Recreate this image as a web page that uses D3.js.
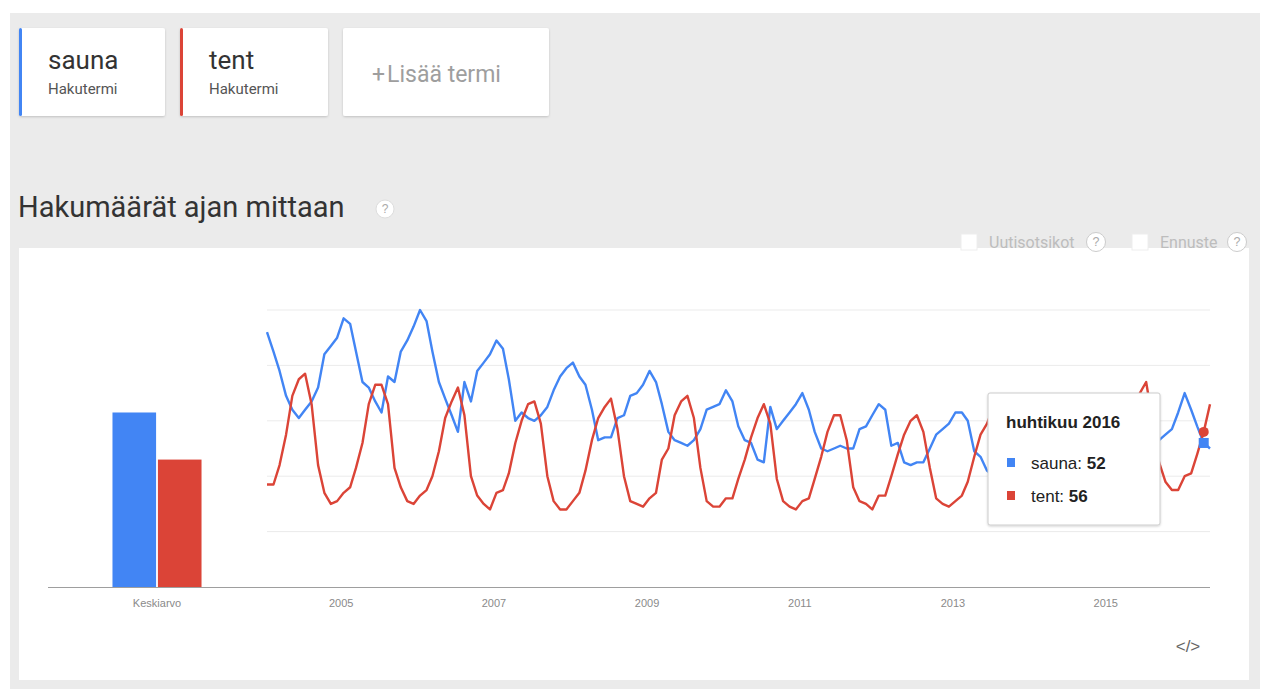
<!DOCTYPE html>
<html>
<head>
<meta charset="utf-8">
<script src="https://cdn.jsdelivr.net/npm/d3@7"></script>
<style>
  body { margin: 0; background: #fff; }
  svg { display: block; }
  .roboto { font-family: Roboto, "Noto Sans", sans-serif; }
  .arial { font-family: "Liberation Sans", Arial, sans-serif; }
</style>
</head>
<body>
<svg width="1263" height="689"></svg>
<script>
// search terms
let terms = ["sauna", "tent"]
let colors = ["#4285f4", "#db4437"]

// monthly interest, Jan 2004 .. May 2016
let startMonth = new Date(2004, 0, 1)
let sauna = [92, 85, 78, 69, 64, 61, 64, 67, 72, 84, 87, 90,
  97, 95, 85, 74, 72, 67, 63, 76, 74, 85, 89, 94,
  100, 96, 85, 74, 68, 62, 56, 74, 67, 78, 81, 84,
  89, 86, 75, 60, 63, 61, 60, 62, 65, 71, 76, 79,
  81, 76, 73, 64, 53, 54, 54, 61, 62, 69, 70, 73,
  78, 74, 66, 56, 53, 52, 51, 53, 57, 64, 65, 66,
  71, 67, 58, 53, 52, 46, 45, 65, 57, 60, 63, 66,
  70, 64, 56, 50, 49, 50, 51, 50, 50, 57, 58, 62,
  66, 64, 51, 52, 45, 44, 45, 45, 50, 55, 57, 59,
  63, 63, 60, 49, 47, 42, 40, 41, 44, 50, 55, 58,
  60, 57, 52, 48, 46, 44, 43, 44, 48, 53, 56, 58,
  60, 56, 52, 49, 47, 46, 47, 50, 53, 55, 57, 63,
  70, 64, 58, 52, 50]
let tent = [37, 37, 44, 55, 69, 75, 77, 66, 44, 34, 30, 31,
  34, 36, 43, 52, 66, 73, 73, 66, 43, 36, 31, 30,
  33, 35, 40, 49, 61, 67, 72, 62, 40, 33, 30, 28,
  34, 35, 41, 52, 60, 66, 67, 59, 40, 31, 28, 28,
  31, 34, 42, 53, 61, 65, 68, 57, 40, 31, 30, 29,
  32, 34, 46, 50, 62, 67, 69, 61, 43, 31, 29, 29,
  32, 32, 39, 46, 54, 61, 66, 59, 39, 31, 29, 28,
  31, 32, 39, 47, 56, 62, 62, 53, 36, 31, 30, 28,
  33, 33, 40, 48, 55, 60, 62, 56, 43, 32, 30, 29,
  31, 33, 38, 47, 55, 59, 65, 60, 45, 34, 30, 29,
  31, 33, 38, 46, 55, 63, 67, 62, 46, 35, 31, 30,
  32, 34, 40, 48, 58, 70, 74, 60, 45, 38, 35, 35,
  40, 41, 48, 56, 66]

// averages (bar chart)
let averages = [63, 46]
let avgLabel = "Keskiarvo"

let yearTicks = [2005, 2007, 2009, 2011, 2013, 2015]
let gridValues = [20, 40, 60, 80, 100]

// tooltip
let hoverIndex = 147
let hoverLabel = "huhtikuu 2016"

let svg = d3.select("svg")

// drop shadow
let defs = svg.append("defs")
defs.append("filter").attr("id", "shadow")
    .attr("x", "-10%").attr("y", "-10%").attr("width", "120%").attr("height", "130%")
    .append("feDropShadow")
    .attr("dx", 0).attr("dy", 1).attr("stdDeviation", 1.2)
    .attr("flood-color", "#000").attr("flood-opacity", 0.18)

// page backdrop
svg.append("rect")
    .attr("x", 10).attr("y", 13).attr("width", 1250).attr("height", 676)
    .style("fill", "#ebebeb")

// term cards
let cards = [
  { label: "sauna", x: 19, w: 146, color: colors[0] },
  { label: "tent", x: 180, w: 148, color: colors[1] }
]
cards.forEach(c => {
  let g = svg.append("g")
  g.append("rect")
      .attr("x", c.x).attr("y", 28).attr("width", c.w).attr("height", 88).attr("rx", 2)
      .style("fill", "#fff").attr("filter", "url(#shadow)")
  g.append("rect")
      .attr("x", c.x).attr("y", 28).attr("width", 3).attr("height", 88).attr("rx", 1.5)
      .style("fill", c.color)
  g.append("text").attr("class", "roboto")
      .attr("x", c.x + 29).attr("y", 69)
      .style("font-size", "26px").style("fill", "#333")
      .text(c.label)
  g.append("text").attr("class", "roboto")
      .attr("x", c.x + 29).attr("y", 94)
      .style("font-size", "15px").style("fill", "#555")
      .text("Hakutermi")
})
svg.append("rect")
    .attr("x", 343).attr("y", 28).attr("width", 206).attr("height", 88).attr("rx", 2)
    .style("fill", "#fff").attr("filter", "url(#shadow)")
let add = svg.append("text").attr("class", "roboto")
    .attr("x", 372).attr("y", 82)
    .style("font-size", "23px").style("fill", "#9e9e9e")
add.append("tspan").text("+")
add.append("tspan").attr("dx", 2).text("Lisää termi")

// title
svg.append("text").attr("class", "roboto")
    .attr("x", 18).attr("y", 217)
    .style("font-size", "29px").style("fill", "#333")
    .text("Hakumäärät ajan mittaan")

function helpIcon(cx, cy, r, stroke) {
  svg.append("circle")
      .attr("cx", cx).attr("cy", cy).attr("r", r)
      .style("fill", "#fff").style("stroke", stroke).style("stroke-width", 1)
  svg.append("text").attr("class", "arial")
      .attr("x", cx).attr("y", cy + 4)
      .attr("text-anchor", "middle")
      .style("font-size", (r + 3) + "px").style("fill", "#aaa")
      .text("?")
}
helpIcon(385, 209, 9, "#ddd")

// chart card
svg.append("rect")
    .attr("x", 19).attr("y", 248).attr("width", 1230).attr("height", 432)
    .style("fill", "#fff")

// option checkboxes
let options = [
  { label: "Uutisotsikot", x: 961, help: 1096 },
  { label: "Ennuste", x: 1132, help: 1237 }
]
options.forEach(o => {
  svg.append("rect")
      .attr("x", o.x).attr("y", 234).attr("width", 16).attr("height", 16)
      .style("fill", "#fff").style("stroke", "#eee")
  svg.append("text").attr("class", "roboto")
      .attr("x", o.x + 28).attr("y", 248)
      .style("font-size", "16px").style("fill", "#bdbdbd")
      .text(o.label)
  helpIcon(o.help, 242, 9.5, "#ccc")
})

// scales
let dates = sauna.map((d, i) => d3.timeMonth.offset(startMonth, i))

let x = d3.scaleTime()
    .domain([startMonth, dates[dates.length - 1]])
    .range([267, 1210])

let y = d3.scaleLinear()
    .domain([0, 100])
    .range([587, 310])

let barX = d3.scaleBand()
    .domain([avgLabel])
    .range([48, 266])
    .padding(0.42)

let barInner = d3.scaleBand()
    .domain(terms)
    .range([0, barX.bandwidth()])
    .paddingInner(0.04)

// grid lines
svg.append("g")
    .selectAll(".grid")
    .data(gridValues)
    .join("line")
    .attr("x1", x.range()[0]).attr("x2", x.range()[1])
    .attr("y1", d => y(d)).attr("y2", d => y(d))
    .style("stroke", "#ebebeb").style("stroke-width", 1)

// average bars
svg.append("g")
    .selectAll(".bar")
    .data(averages)
    .join("rect")
    .attr("x", (d, i) => barX(avgLabel) + barInner(terms[i]))
    .attr("width", barInner.bandwidth())
    .attr("y", d => y(d))
    .attr("height", d => y(0) - y(d))
    .style("fill", (d, i) => colors[i])

// baseline
svg.append("line")
    .attr("x1", barX.range()[0]).attr("x2", x.range()[1])
    .attr("y1", y(0) + 0.5).attr("y2", y(0) + 0.5)
    .style("stroke", "#9e9e9e").style("stroke-width", 1)

// bar axis label
let barAxis = svg.append("g")
    .attr("transform", "translate(0," + y(0) + ")")
    .call(d3.axisBottom(barX).tickSize(0).tickPadding(12))
barAxis.select(".domain").remove()
barAxis.selectAll("text")
    .attr("class", "arial")
    .style("font-size", "11px").style("fill", "#8a8a8a")

// time axis
let timeAxis = svg.append("g")
    .attr("transform", "translate(-3," + y(0) + ")")
    .call(d3.axisBottom(x)
        .tickValues(yearTicks.map(yr => new Date(yr, 0, 1)))
        .tickFormat(d3.timeFormat("%Y"))
        .tickSize(0).tickPadding(12))
timeAxis.select(".domain").remove()
timeAxis.selectAll("text")
    .attr("class", "arial")
    .style("font-size", "11px").style("fill", "#8a8a8a")

// lines
let line = d3.line()
    .x((d, i) => x(dates[i]))
    .y(d => y(d))

svg.selectAll(".series")
    .data([sauna, tent])
    .join("path")
    .attr("d", d => line(d))
    .style("fill", "none")
    .style("stroke", (d, i) => colors[i])
    .style("stroke-width", 2.4)
    .style("stroke-linejoin", "round")

// hover markers
let hx = x(dates[hoverIndex])
svg.append("circle")
    .attr("cx", hx).attr("cy", y(tent[hoverIndex])).attr("r", 5)
    .style("fill", colors[1])
svg.append("rect")
    .attr("x", hx - 5).attr("y", y(sauna[hoverIndex]) - 5)
    .attr("width", 10).attr("height", 10)
    .style("fill", colors[0])

// tooltip
let tip = svg.append("g").attr("transform", "translate(988,393)")
tip.append("rect")
    .attr("width", 172).attr("height", 132).attr("rx", 2)
    .style("fill", "#fff").style("stroke", "#ccc")
    .attr("filter", "url(#shadow)")
tip.append("text").attr("class", "arial")
    .attr("x", 18).attr("y", 35)
    .style("font-size", "17px").style("font-weight", "bold").style("fill", "#222")
    .text(hoverLabel)
let rows = [sauna[hoverIndex], tent[hoverIndex]]
rows.forEach((v, i) => {
  let ry = 70 + i * 33
  tip.append("rect")
      .attr("x", 19).attr("y", ry - 5).attr("width", 8).attr("height", 9)
      .style("fill", colors[i])
  let t = tip.append("text").attr("class", "arial")
      .attr("x", 43).attr("y", ry + 6)
      .style("font-size", "17px").style("fill", "#222")
  t.append("tspan").text(terms[i] + ": ")
  t.append("tspan").style("font-weight", "bold").text(v)
})

// embed icon
svg.append("text").attr("class", "arial")
    .attr("x", 1188).attr("y", 652)
    .attr("text-anchor", "middle")
    .style("font-size", "17px").style("fill", "#666")
    .text("</>")
</script>
</body>
</html>
